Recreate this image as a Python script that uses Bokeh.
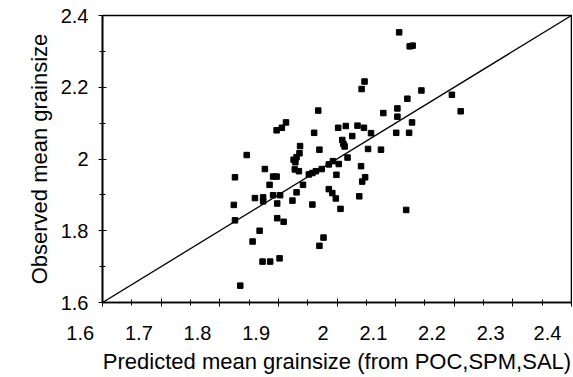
from bokeh.plotting import figure
from bokeh.models import FixedTicker, Range1d
from bokeh.embed import file_html
from bokeh.resources import INLINE

# Predicted (x) and observed (y) mean grainsize
predicted = [2.106, 2.124, 2.129, 2.047, 2.042, 2.144, 2.120, 2.196, 1.968, 2.079,
             2.103, 2.103, 2.211, 2.128, 2.002, 2.015, 2.035, 2.046, 2.058, 2.026,
             1.961, 2.009, 2.011, 2.013, 2.101, 2.123, 1.970, 2.053, 2.075, 2.018,
             1.913, 1.906, 1.897, 1.937, 1.846, 1.936, 1.931, 1.926, 1.929, 1.877,
             1.928, 1.935, 1.826, 1.891, 1.897, 1.952, 1.958, 1.964, 1.974, 1.986,
             1.993, 2.003, 2.041, 1.999, 2.048, 2.043, 1.885, 1.942, 1.931, 1.891,
             1.903, 1.874, 1.860, 1.874, 1.924, 1.898, 1.958, 1.824, 1.986, 1.992,
             1.998, 2.038, 2.006, 2.118, 1.826, 1.898, 1.909, 1.868, 1.856, 1.977,
             1.970, 1.873, 1.886, 1.902, 1.835]
observed = [2.353, 2.314, 2.316, 2.216, 2.195, 2.191, 2.168, 2.179, 2.135, 2.128,
            2.141, 2.118, 2.133, 2.102, 2.087, 2.092, 2.093, 2.087, 2.072, 2.064,
            2.073, 2.053, 2.042, 2.035, 2.073, 2.073, 2.026, 2.028, 2.026, 2.004,
            2.102, 2.087, 2.080, 2.036, 2.011, 2.016, 2.005, 1.998, 1.991, 1.972,
            1.971, 1.966, 1.949, 1.951, 1.951, 1.957, 1.961, 1.966, 1.972, 1.985,
            1.994, 1.986, 1.980, 1.956, 1.949, 1.937, 1.928, 1.928, 1.907, 1.899,
            1.899, 1.893, 1.891, 1.882, 1.884, 1.876, 1.873, 1.872, 1.916, 1.905,
            1.890, 1.896, 1.861, 1.858, 1.829, 1.835, 1.825, 1.800, 1.770, 1.781,
            1.758, 1.714, 1.714, 1.723, 1.647]

x_ticks = [1.6, 1.7, 1.8, 1.9, 2.0, 2.1, 2.2, 2.3, 2.4]
x_tick_labels = ["1.6", "1.7", "1.8", "1.9", "2", "2.1", "2.2", "2.3", "2.4"]
y_ticks = [1.6, 1.8, 2.0, 2.2, 2.4]
y_tick_labels = ["1.6", "1.8", "2", "2.2", "2.4"]
one_to_one = [1.6, 2.4]

FONT = "Liberation Sans"
NBSP = "\u00a0"

def right_pad(i, label):
    # the original sets its x tick labels right-aligned just left of each tick;
    # the last one is kept inside the canvas by Bokeh, so it needs less padding
    if i == len(x_tick_labels) - 1:
        n = 2
    else:
        n = 8 if len(label) > 1 else 5
    return label + NBSP * n

p = figure(frame_width=469, frame_height=287, output_backend="svg", toolbar_location=None,
           x_range=Range1d(1.6, 2.4), y_range=Range1d(1.6, 2.4),
           min_border_left=102, min_border_top=15, min_border_right=1, min_border_bottom=74)
p.background_fill_color = "white"
p.border_fill_color = "white"
p.grid.visible = False
p.outline_line_color = "black"
p.outline_line_width = 1.6

p.line(one_to_one, one_to_one, line_color="black", line_width=1.3)
p.scatter(predicted, observed, marker="square", size=5.5, fill_color="black", line_color="black")

p.xaxis.ticker = FixedTicker(ticks=x_ticks, minor_ticks=[1.6 + 0.05 * i for i in range(17)])
p.xaxis.major_label_overrides = {t: right_pad(i, l) for i, (t, l) in enumerate(zip(x_ticks, x_tick_labels))}
p.yaxis.ticker = FixedTicker(ticks=y_ticks, minor_ticks=[1.6 + 0.1 * i for i in range(9)])
p.yaxis.major_label_overrides = {t: l for t, l in zip(y_ticks, y_tick_labels)}

p.xaxis.axis_label = "Predicted mean grainsize (from POC,SPM,SAL)"
p.yaxis.axis_label = "Observed mean grainsize"

for ax in (p.xaxis, p.yaxis):
    ax.axis_line_color = "black"
    ax.axis_line_width = 1.6
    ax.major_tick_in = 4
    ax.major_tick_out = 4
    ax.minor_tick_in = 3
    ax.minor_tick_out = 3
    ax.major_tick_line_color = "black"
    ax.minor_tick_line_color = "black"
    ax.major_label_text_font = FONT
    ax.major_label_text_font_size = "20px"
    ax.major_label_text_color = "black"
    ax.axis_label_text_font = FONT
    ax.axis_label_text_font_size = "22px"
    ax.axis_label_text_font_style = "normal"
    ax.axis_label_text_color = "black"

p.xaxis.major_label_standoff = 15
p.xaxis.axis_label_standoff = 2
p.yaxis.major_label_standoff = 10
p.yaxis.axis_label_standoff = 6

open("out.html", "w").write(file_html(p, INLINE))
